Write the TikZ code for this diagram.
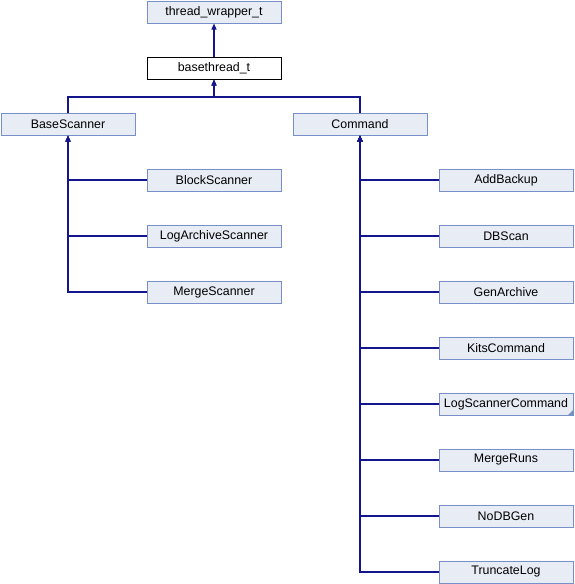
\documentclass[tikz,border=0pt]{standalone}
\usepackage{fontspec}
\setmainfont{Liberation Sans}
\usetikzlibrary{arrows.meta}
\definecolor{boxfill}{RGB}{232,236,244}
\definecolor{boxline}{RGB}{120,144,200}
\definecolor{edge}{RGB}{20,20,140}
\begin{document}
\begin{tikzpicture}[
 x=1pt, y=-1pt,
 cls/.style={rectangle, draw=boxline, fill=boxfill, line width=1pt, minimum width=134pt, minimum height=22pt, inner sep=0pt, font=\fontsize{12.4}{14}\selectfont},
 cur/.style={cls, draw=black, fill=white},
 inh/.style={-{Triangle[width=5pt,length=6pt]}, edge, line width=1.3pt},
]
\useasboundingbox (0,0) rectangle (574,584);
\node[cls] (twt) at (214,12) {thread\_wrapper\_t};
\node[cur] (bt) at (214,68) {basethread\_t};
\node[cls] (bs) at (68,124) {BaseScanner};
\node[cls] (cmd) at (360,124) {Command};
\coordinate (bus) at (214,97);

% scanners
\node[cls] (blk) at (214,180) {BlockScanner};
\node[cls] (las) at (214,236) {LogArchiveScanner};
\node[cls] (mrg) at (214,292) {MergeScanner};

% commands
\node[cls] (add) at (506,180) {AddBackup};
\node[cls] (dbs) at (506,236) {DBScan};
\node[cls] (gen) at (506,292) {GenArchive};
\node[cls] (kit) at (506,348) {KitsCommand};
\node[cls] (lsc) at (506,404) {LogScannerCommand};
\node[cls] (mru) at (506,460) {MergeRuns};
\node[cls] (nod) at (506,516) {NoDBGen};
\node[cls] (trl) at (506,572) {TruncateLog};
\fill[boxline] (lsc.south east) -- ++(-6,0) -- ++(6,-6) -- cycle;

\draw[inh] (bt) -- (twt);
\draw[inh] (bs.north) |- (bus) -- (bt.south);
\draw[inh] (cmd.north) |- (bus) -- (bt.south);
\foreach \k in {blk,las,mrg}
  \draw[inh] (\k.west) -| (bs.south);
\foreach \k in {add,dbs,gen,kit,lsc,mru,nod,trl}
  \draw[inh] (\k.west) -| (cmd.south);
\end{tikzpicture}
\end{document}
